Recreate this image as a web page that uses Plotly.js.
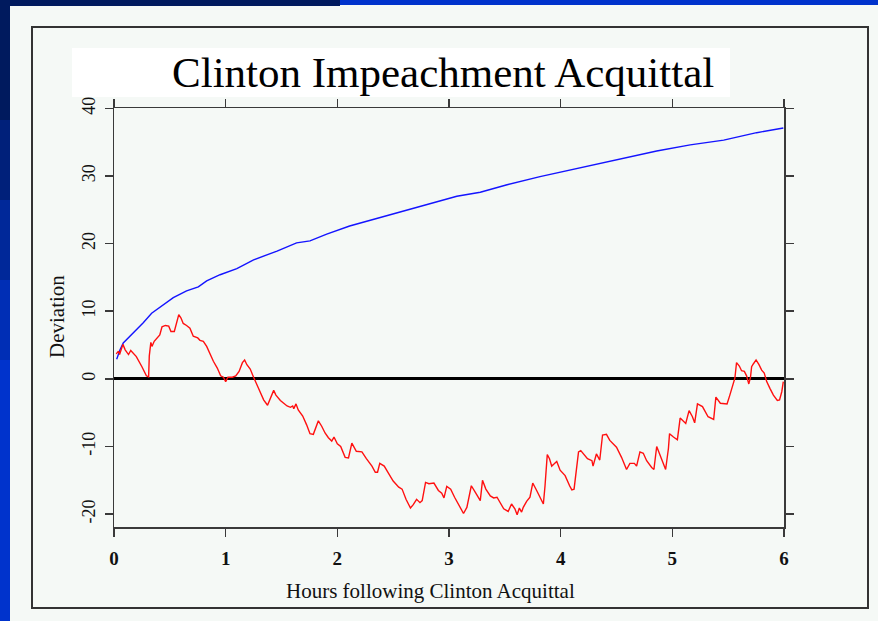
<!DOCTYPE html>
<html>
<head>
<meta charset="utf-8">
<script src="https://cdn.plot.ly/plotly-3.0.1.min.js"></script>
<style>
html,body{margin:0;padding:0;background:#f5f9f6;}
#chart{width:878px;height:621px;}
</style>
</head>
<body>
<div id="chart"></div>
<script>
// ---- data ----
const redHours = [0.02,0.04,0.05,0.08,0.10,0.13,0.15,0.18,0.20,0.25,0.29,0.31,0.316,0.33,0.34,0.36,0.38,0.41,0.43,0.46,0.49,0.51,0.54,0.555,0.58,0.60,0.62,0.65,0.68,0.71,0.75,0.77,0.80,0.83,0.86,0.89,0.925,0.955,0.98,1.00,1.02,1.06,1.09,1.12,1.15,1.17,1.19,1.22,1.25,1.28,1.31,1.34,1.375,1.40,1.43,1.45,1.49,1.52,1.55,1.58,1.60,1.61,1.63,1.65,1.69,1.725,1.755,1.785,1.81,1.83,1.86,1.89,1.92,1.95,1.97,2.00,2.03,2.07,2.10,2.13,2.17,2.22,2.26,2.31,2.34,2.36,2.38,2.42,2.46,2.50,2.55,2.58,2.615,2.655,2.68,2.71,2.74,2.76,2.79,2.82,2.865,2.905,2.935,2.955,2.98,3.015,3.05,3.10,3.13,3.16,3.20,3.24,3.28,3.30,3.33,3.37,3.40,3.43,3.46,3.49,3.53,3.56,3.59,3.61,3.63,3.65,3.665,3.695,3.725,3.75,3.785,3.815,3.845,3.86,3.88,3.90,3.92,3.94,3.965,3.995,4.04,4.08,4.10,4.12,4.16,4.18,4.24,4.28,4.29,4.32,4.35,4.375,4.41,4.44,4.50,4.545,4.59,4.62,4.66,4.68,4.71,4.74,4.77,4.815,4.835,4.86,4.89,4.94,4.965,4.975,5.01,5.045,5.07,5.12,5.15,5.18,5.20,5.225,5.27,5.32,5.37,5.39,5.43,5.49,5.515,5.546,5.56,5.575,5.60,5.62,5.645,5.665,5.685,5.70,5.71,5.725,5.75,5.776,5.80,5.823,5.845,5.874,5.905,5.94,5.96,5.98,5.994];
const redDeviation = [3.7,4.1,3.6,5.1,4.3,3.6,4.2,3.7,3.3,1.8,0.45,0.3,3.4,5.4,4.8,5.55,5.9,6.5,7.7,7.9,7.8,7.0,7.0,7.8,9.5,9.0,8.2,7.9,7.5,6.3,6.05,5.7,5.55,4.8,3.6,2.6,1.6,0.45,0.25,-0.4,0.25,0.25,0.45,1.1,2.4,2.8,2.1,1.45,0.25,-0.9,-2.0,-3.1,-3.9,-2.9,-1.7,-2.4,-3.2,-3.6,-4.0,-4.2,-4.0,-4.4,-3.7,-4.6,-5.5,-6.8,-8.1,-8.2,-7.0,-6.2,-7.0,-8.0,-8.7,-9.2,-8.6,-9.6,-10.0,-11.6,-11.7,-9.5,-10.7,-10.8,-11.8,-12.9,-13.8,-13.8,-12.5,-12.9,-14.0,-15.1,-16.0,-16.3,-17.8,-19.1,-18.6,-17.8,-18.3,-18.0,-15.3,-15.5,-15.4,-16.5,-16.9,-17.6,-15.9,-16.3,-17.5,-19.0,-19.9,-19.0,-15.8,-16.9,-18.0,-15.0,-16.3,-17.3,-17.6,-17.5,-18.4,-19.2,-19.6,-18.5,-19.2,-20.1,-19.1,-19.7,-19.0,-18.1,-17.5,-15.4,-16.5,-17.6,-18.5,-15.8,-11.2,-11.8,-12.9,-12.6,-12.2,-13.5,-14.3,-15.8,-16.4,-16.3,-10.8,-10.6,-11.8,-12.1,-12.9,-11.1,-12.0,-8.3,-8.2,-9.1,-10.1,-11.6,-13.4,-12.5,-12.5,-12.9,-10.8,-11.0,-12.1,-13.1,-13.4,-10.0,-11.3,-13.4,-10.3,-8.1,-8.6,-9.0,-5.8,-6.6,-4.7,-5.6,-6.5,-3.7,-4.1,-5.6,-6.0,-2.7,-3.6,-3.7,-2.4,-0.9,0.1,2.4,1.9,1.2,1.1,0.45,-0.75,0.25,1.8,2.2,2.8,2.1,1.3,0.85,-0.4,-1.4,-2.4,-3.2,-3.1,-1.9,-0.4];

const blueHours = [0.024,0.054,0.083,0.128,0.188,0.262,0.337,0.427,0.531,0.65,0.755,0.83,0.95,1.10,1.25,1.46,1.635,1.755,1.905,2.11,2.35,2.50,2.65,2.83,2.99,3.07,3.28,3.52,3.815,4.11,4.47,4.86,5.16,5.46,5.755,5.994];
const blueDeviation = [2.9,4.3,5.3,6.05,7.0,8.3,9.7,10.8,12.0,13.0,13.6,14.5,15.4,16.3,17.6,18.9,20.1,20.4,21.4,22.6,23.7,24.4,25.1,25.9,26.6,27.0,27.6,28.7,29.9,31.0,32.3,33.7,34.6,35.3,36.4,37.1];

const xTickVals = [0,1,2,3,4,5,6];
const yTickVals = [-20,-10,0,10,20,30,40];
const chartTitle = "Clinton Impeachment Acquittal";
const xTitle = "Hours following Clinton Acquittal";
const yTitle = "Deviation";

// ---- layout helpers (pixel -> paper) ----
const W = 878, H = 621, L = 114, R = 94, T = 108, B = 94;
const pw = W - L - R, ph = H - T - B;
const px = v => (v - L) / pw;
const py = v => (H - B - v) / ph;
const rect = (x0, y0, x1, y1, fill, line) => ({
  type: 'rect', xref: 'paper', yref: 'paper', layer: 'below',
  x0: px(x0), x1: px(x1), y0: py(y0), y1: py(y1),
  fillcolor: fill || 'rgba(0,0,0,0)',
  line: line || {width: 0}
});

const serif = 'Liberation Serif, Times New Roman, serif';

const traces = [
  {x: blueHours, y: blueDeviation, type: 'scatter', mode: 'lines',
   line: {color: '#1414ff', width: 1.4}, hoverinfo: 'skip'},
  {x: redHours, y: redDeviation, type: 'scatter', mode: 'lines',
   line: {color: '#ff1010', width: 1.4}, hoverinfo: 'skip'}
];

const axisCommon = {
  showline: true, linecolor: '#3a3a3a', linewidth: 1.5, mirror: 'ticks',
  ticks: 'outside', ticklen: 8, tickwidth: 1.5, tickcolor: '#3a3a3a',
  showgrid: false, fixedrange: true
};

const layout = {
  width: W, height: H,
  margin: {l: L, r: R, t: T, b: B, pad: 0},
  paper_bgcolor: '#f5f9f6', plot_bgcolor: '#f5f9f6',
  showlegend: false,
  xaxis: Object.assign({}, axisCommon, {
    range: [0, 6], tickvals: xTickVals, ticktext: xTickVals.map(String),
    zeroline: false, ticklabelstandoff: 6,
    tickfont: {family: serif, size: 19, color: '#111', weight: 'bold'}
  }),
  yaxis: Object.assign({}, axisCommon, {
    range: [-21.9, 40.05], tickvals: yTickVals, ticktext: yTickVals.map(String),
    tickangle: -90, zeroline: true, zerolinecolor: '#000', zerolinewidth: 3,
    ticklabelstandoff: 2,
    tickfont: {family: serif, size: 18, color: '#111'}
  }),
  shapes: [
    rect(0, 0, 340, 6, '#001a5e'),
    rect(340, 0, 878, 5, '#0033cc'),
    rect(0, 0, 10, 120, '#001a5e'),
    rect(0, 120, 10, 200, '#00207a'),
    rect(0, 200, 10, 280, '#002899'),
    rect(0, 280, 10, 360, '#002eb5'),
    rect(0, 360, 10, 621, '#0033cc'),
    rect(32, 27, 868, 608, null, {color: '#333', width: 2}),
    rect(72, 48, 730, 97, '#ffffff')
  ],
  annotations: [
    {text: chartTitle, xref: 'paper', yref: 'paper', x: px(443), y: py(73),
     xanchor: 'center', yanchor: 'middle', showarrow: false,
     font: {family: serif, size: 43, color: '#000'}},
    {text: xTitle, xref: 'paper', yref: 'paper', x: px(430), y: py(591),
     xanchor: 'center', yanchor: 'middle', showarrow: false,
     font: {family: serif, size: 21, color: '#111'}},
    {text: yTitle, xref: 'paper', yref: 'paper', x: px(57), y: py(317),
     xanchor: 'center', yanchor: 'middle', showarrow: false, textangle: -90,
     font: {family: serif, size: 21, color: '#111'}}
  ]
};

Plotly.newPlot('chart', traces, layout, {displayModeBar: false, staticPlot: true});
</script>
</body>
</html>
